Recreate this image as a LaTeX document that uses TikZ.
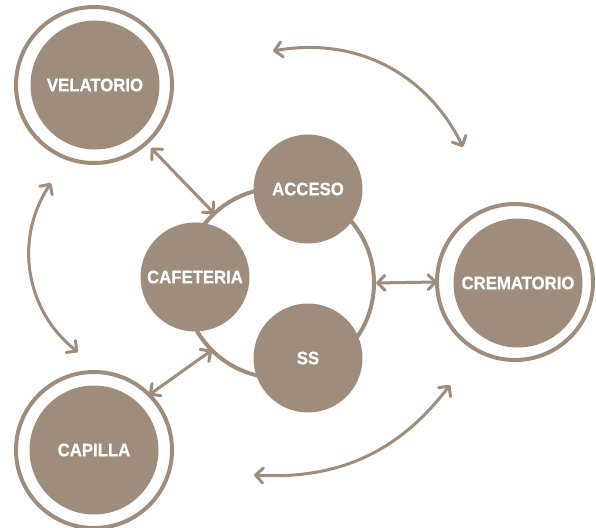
\documentclass[tikz,border=0pt]{standalone}
\usepackage{fontspec}
\setmainfont{Liberation Sans}[FakeStretch=0.93, BoldFeatures={FakeBold=0.8}]
\usetikzlibrary{arrows.meta}
\definecolor{brn}{RGB}{158,140,124}
\tikzset{
  ring/.style={circle, draw=brn, line width=4pt, minimum size=156pt, inner sep=0pt, outer sep=0pt},
  bigdot/.style={circle, fill=brn, minimum size=129pt, inner sep=0pt, outer sep=0pt, text=white, font=\bfseries\fontsize{18}{20}\selectfont},
  smalldot/.style={circle, fill=brn, minimum size=109pt, inner sep=0pt, outer sep=0pt, text=white, font=\bfseries\fontsize{18}{20}\selectfont},
  hub/.style={circle, draw=brn, line width=4pt, minimum size=190pt, inner sep=0pt, outer sep=0pt},
  link/.style={draw=brn, line width=3pt, line cap=round, {Straight Barb[length=7.5pt,width=15pt,round]}-{Straight Barb[length=7.5pt,width=15pt,round]}}
}
\begin{document}
\begin{tikzpicture}[x=1pt,y=-1pt]
\useasboundingbox (0,0) rectangle (596,527);
% outer rings
\node[ring] (velring) at (94,85) {};
\node[ring] (capring) at (94,450) {};
\node[ring] (cremring) at (515,282) {};
\node[bigdot] (vel) at (95,85) {VELATORIO};
\node[bigdot] (cap) at (94,450) {CAPILLA};
\node[bigdot] (crem) at (518,283) {CREMATORIO};
% hub
\node[hub] (hubc) at (279,283) {};
\node[smalldot] (acc) at (308,189) {ACCESO};
\node[smalldot] (caf) at (195,277) {CAFETERIA};
\node[smalldot] (ss) at (308,358) {SS};
% straight connectors
\draw[link, shorten <=7pt] (velring.-48) -- (hubc.133);
\draw[link] (capring.45) -- (hubc.225);
\draw[link, shorten <=2pt] (hubc.0) -- (cremring.180);
% curved connectors
\coordinate (t1) at (273,51);
\coordinate (t2) at (463,147);
\coordinate (b1) at (450,385);
\coordinate (b2) at (254,475);
\coordinate (l1) at (51,183);
\coordinate (l2) at (78,352);
\draw[link] (t1) to[bend left=37] (t2);
\draw[link] (b1) to[bend left=28] (b2);
\draw[link] (l1) to[bend right=43] (l2);
\end{tikzpicture}
\end{document}
